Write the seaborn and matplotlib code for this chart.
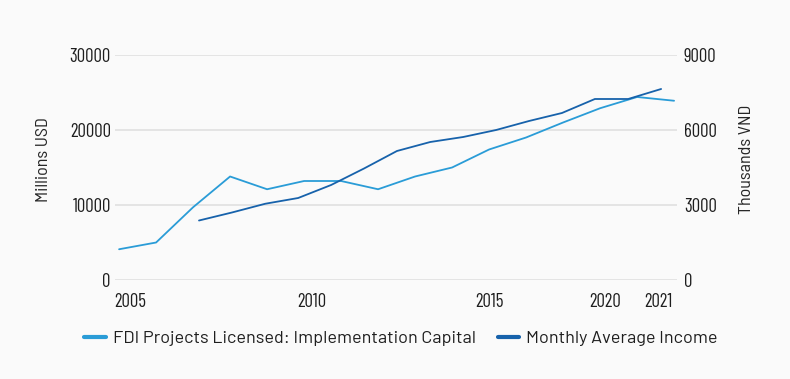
import numpy as np
import matplotlib
matplotlib.use("Agg")
import matplotlib.pyplot as plt
import seaborn as sns

# FDI projects licensed: implementation capital (millions USD), left axis
fdi_x = [2005, 2006, 2007, 2008, 2009, 2010, 2011, 2012, 2013, 2014, 2015, 2016, 2017, 2018, 2019, 2020]
fdi_values = [4100, 5000, 9700, 13800, 12100, 13200, 13200, 12100, 13800, 15000, 17400, 19000, 21000, 22900, 24400, 23900]

# monthly average income (thousands VND), right axis
income_x = [2007.16, 2008.05, 2008.95, 2009.84, 2010.73, 2011.62, 2012.51, 2013.41,
            2014.30, 2015.19, 2016.08, 2016.97, 2017.86, 2018.76, 2019.65]
income_values = [2380, 2700, 3050, 3280, 3800, 4460, 5160, 5520, 5720, 6000, 6360, 6680, 7240, 7240, 7640]

tick_pos = [2005.3, 2010.2, 2015.0, 2018.14, 2019.57]
tick_labels = ["2005", "2010", "2015", "2020", "2021"]

fdi_label = "FDI Projects Licensed: Implementation Capital"
income_label = "Monthly Average Income"

bg = "#fafafa"
light_blue = "#2a9cd7"
dark_blue = "#1762ab"
text_col = "#1e1e1e"

tick_font = ['Barlow Condensed', 'Roboto Condensed', 'DejaVu Sans']
label_font = ['Barlow Semi Condensed', 'Roboto Condensed', 'DejaVu Sans']
legend_font = ['Barlow', 'Roboto', 'DejaVu Sans']

sns.set_style("white", {"axes.facecolor": bg, "figure.facecolor": bg})
plt.rcParams['font.family'] = tick_font
plt.rcParams['text.color'] = text_col

fig = plt.figure(figsize=(7.9, 3.79), dpi=100)
ax = fig.add_axes([0.1456, 0.2612, 0.7114, 0.5937])
ax2 = ax.twinx()

sns.lineplot(x=fdi_x, y=fdi_values, ax=ax, color=light_blue, linewidth=1.3, label=fdi_label, legend=False)
sns.lineplot(x=income_x, y=income_values, ax=ax2, color=dark_blue, linewidth=1.3, label=income_label, legend=False)

ax.set_xlim(2004.89, 2020.08)
ax.set_ylim(0, 30000)
ax2.set_ylim(0, 9000)
ax.set_yticks([0, 10000, 20000, 30000])
ax2.set_yticks([0, 3000, 6000, 9000])
ax.set_xticks(tick_pos)
ax.set_xticklabels(tick_labels)

ax.grid(axis="y", color="#e2e2e2", linewidth=1.3)
ax.set_axisbelow(True)
for a in (ax, ax2):
    for s in a.spines.values():
        s.set_visible(False)
    a.tick_params(length=0, labelsize=13.5, colors=text_col)
ax.tick_params(axis="y", pad=3)
ax2.tick_params(axis="y", pad=5)
ax.tick_params(axis="x", pad=9)

ax.set_ylabel("Millions USD", fontsize=13, family=label_font)
ax2.set_ylabel("Thousands VND", fontsize=13, family=label_font)
ax.yaxis.set_label_coords(-0.114, 0.535)
ax2.yaxis.set_label_coords(1.11, 0.535)

h1, l1 = ax.get_legend_handles_labels()
h2, l2 = ax2.get_legend_handles_labels()
leg = fig.legend(h1 + h2, l1 + l2, loc="center", bbox_to_anchor=(0.5076, 0.108), ncol=2,
                 frameon=False, handlelength=1.2, columnspacing=1.2, handletextpad=0.4,
                 prop={"family": legend_font, "size": 13})
for line in leg.get_lines():
    line.set_linewidth(3)

fig.savefig("out.png", dpi=100, facecolor=bg)
